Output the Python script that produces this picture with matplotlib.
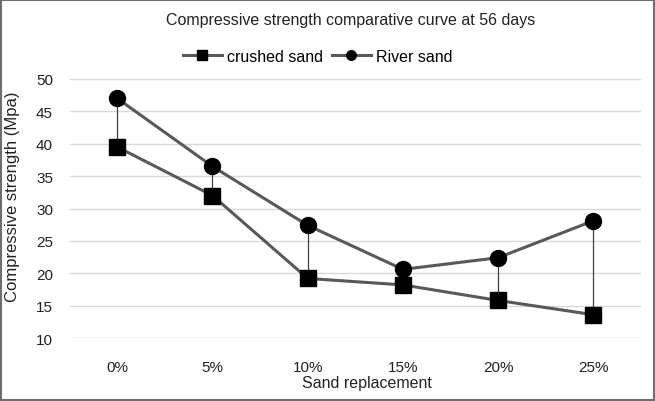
import matplotlib
matplotlib.use("Agg")
import matplotlib.pyplot as plt
from matplotlib.patches import Rectangle

# Data
categories = ["0%", "5%", "10%", "15%", "20%", "25%"]
crushed_sand = [39.5, 32.0, 19.2, 18.2, 15.8, 13.6]
river_sand = [47.0, 36.5, 27.4, 20.6, 22.4, 28.1]

plt.rcParams['font.family'] = ['Liberation Sans', 'DejaVu Sans']
txt = "#222222"

fig = plt.figure(figsize=(6.55, 4.02), dpi=100)
ax = fig.add_axes([0.1064, 0.1567, 0.872, 0.6443])

x = list(range(len(categories)))

# high-low lines between the two series
for xi, a, b in zip(x, crushed_sand, river_sand):
    ax.plot([xi, xi], [a, b], color="#404040", lw=0.9, zorder=2)

l1, = ax.plot(x, crushed_sand, color="#595959", lw=2.2, marker="s", ms=11,
              mfc="black", mec="black", label="crushed sand", zorder=3)
l2, = ax.plot(x, river_sand, color="#595959", lw=2.2, marker="o", ms=11.5,
              mfc="black", mec="black", label="River sand", zorder=3)

ax.set_xlim(-0.5, len(categories) - 0.5)
ax.set_ylim(10, 50)
ax.set_yticks(range(10, 51, 5))
ax.set_xticks(x)
ax.set_xticklabels(categories)
ax.tick_params(length=0, labelsize=11, colors=txt)
ax.tick_params(axis="y", pad=12)
ax.tick_params(axis="x", pad=16)
ax.grid(axis="y", color="#d9d9d9", lw=1)
ax.set_axisbelow(True)
for s in ax.spines.values():
    s.set_visible(False)

ax.set_ylabel("Compressive strength (Mpa)", fontsize=12, color=txt)
ax.yaxis.set_label_coords(0.030, 0.51, transform=fig.transFigure)
ax.set_xlabel("Sand replacement", fontsize=11.5, color=txt)
ax.xaxis.set_label_coords(0.560, 0.064, transform=fig.transFigure)

fig.text(0.536, 0.950, "Compressive strength comparative curve at 56 days",
         ha="center", va="center", fontsize=11.5, color=txt)

fig.legend(handles=[l1, l2], loc="center", bbox_to_anchor=(0.4847, 0.858), ncol=2,
           frameon=False, fontsize=11.5, handlelength=2.45, columnspacing=0.55,
           handletextpad=0.3, markerscale=0.6, borderpad=0)

fig.patches.append(Rectangle((0.002, 0.003), 0.996, 0.994, transform=fig.transFigure,
                             fill=False, ec="#6e6e6e", lw=1.5))

fig.savefig("out.png", dpi=100)
